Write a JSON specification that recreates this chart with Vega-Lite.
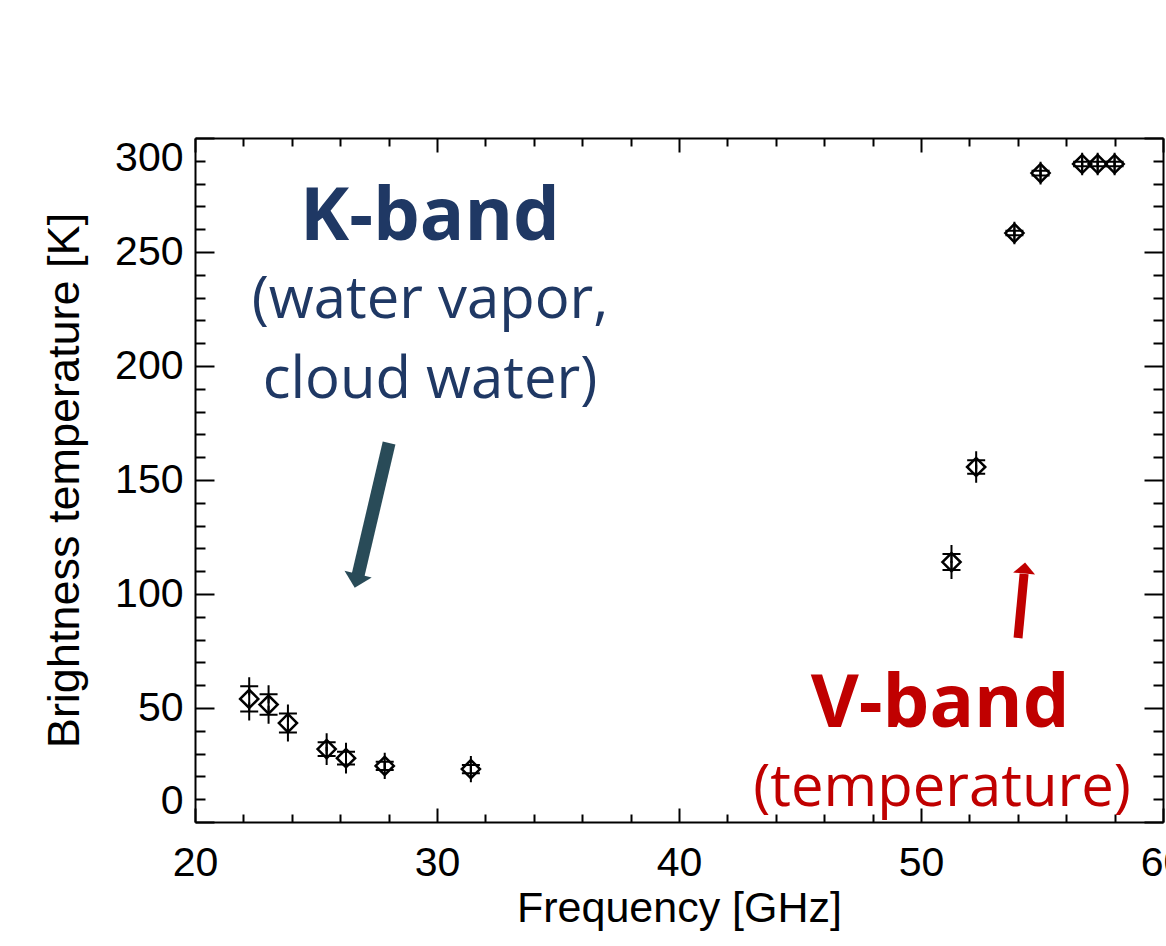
{
  "$schema": "https://vega.github.io/schema/vega-lite/v6.json",
  "width": 968,
  "height": 684,
  "autosize": {"type": "none"},
  "padding": {"left": 195, "top": 138, "right": 3, "bottom": 124},
  "background": "white",
  "config": {"view": {"stroke": null}},
  "datasets": {
    "obs": [
      {"freq": 22.24, "tb": 54.0, "lo": 48.5, "hi": 59.5},
      {"freq": 23.04, "tb": 51.5, "lo": 47.0, "hi": 56.0},
      {"freq": 23.84, "tb": 43.4, "lo": 39.2, "hi": 47.6},
      {"freq": 25.44, "tb": 32.0, "lo": 29.0, "hi": 35.0},
      {"freq": 26.24, "tb": 28.0, "lo": 25.2, "hi": 30.8},
      {"freq": 27.84, "tb": 24.6, "lo": 22.8, "hi": 26.4},
      {"freq": 31.40, "tb": 23.2, "lo": 21.4, "hi": 25.0},
      {"freq": 51.26, "tb": 114.0, "lo": 110.5, "hi": 117.5},
      {"freq": 52.28, "tb": 155.7, "lo": 152.7, "hi": 158.7},
      {"freq": 53.86, "tb": 258.3, "lo": 257.3, "hi": 259.3},
      {"freq": 54.94, "tb": 284.6, "lo": 283.6, "hi": 285.6},
      {"freq": 56.66, "tb": 288.6, "lo": 287.6, "hi": 289.6},
      {"freq": 57.30, "tb": 288.6, "lo": 287.6, "hi": 289.6},
      {"freq": 58.00, "tb": 288.6, "lo": 287.6, "hi": 289.6}
    ],
    "notes": [
      {"role": "ktitle", "freq": 29.71, "tb": 265.0, "text": "K-band"},
      {"role": "ksub", "freq": 29.71, "tb": 228.5, "text": "(water vapor,"},
      {"role": "ksub", "freq": 29.71, "tb": 193.5, "text": "cloud water)"},
      {"role": "vtitle", "freq": 50.79, "tb": 51.3, "text": "V-band"},
      {"role": "vsub", "freq": 50.87, "tb": 14.5, "text": "(temperature)"}
    ],
    "shafts": [
      {"band": "K", "freq": 28.02, "tb": 166.2, "freq2": 26.74, "tb2": 108.3},
      {"band": "V", "freq": 54.01, "tb": 80.7, "freq2": 54.26, "tb2": 108.8}
    ],
    "heads": [
      {"band": "K", "freq": 26.67, "tb": 105.7},
      {"band": "V", "freq": 54.28, "tb": 111.4}
    ]
  },
  "resolve": {"axis": {"x": "independent", "y": "independent"}},
  "layer": [
    {
      "data": {"name": "obs"},
      "mark": {"type": "rule", "color": "black", "strokeWidth": 2},
      "encoding": {
        "x": {
          "field": "freq", "type": "quantitative",
          "scale": {"domain": [20, 60], "nice": false, "zero": false},
          "axis": {
            "orient": "bottom",
            "values": [20,22,24,26,28,30,32,34,36,38,40,42,44,46,48,50,52,54,56,58,60],
            "labelExpr": "datum.value % 10 === 0 ? datum.label : ''",
            "labelOverlap": false, "labelFlush": false,
            "tickSize": -14, "tickWidth": 2, "tickColor": "black",
            "tickDash": {"condition": {"test": "datum.value % 10 !== 0", "value": [8, 40]}, "value": []},
            "domainColor": "black", "domainWidth": 2,
            "labelFont": "Liberation Sans", "labelFontSize": 41, "labelColor": "black", "labelPadding": 35,
            "title": "Frequency [GHz]", "titleFont": "Liberation Sans", "titleFontSize": 43,
            "titleFontWeight": "normal", "titleColor": "black", "titlePadding": 4, "grid": false
          }
        },
        "y": {
          "field": "lo", "type": "quantitative",
          "scale": {"domain": [0, 300], "nice": false, "zero": false},
          "axis": {
            "orient": "left",
            "values": [0,10,20,30,40,50,60,70,80,90,100,110,120,130,140,150,160,170,180,190,200,210,220,230,240,250,260,270,280,290,300],
            "labelExpr": "datum.value % 50 === 0 ? datum.label : ''",
            "labelOverlap": false, "labelFlush": true, "labelFlushOffset": 0,
            "tickSize": -19, "tickWidth": 2, "tickColor": "black",
            "tickDash": {"condition": {"test": "datum.value % 50 !== 0", "value": [10, 40]}, "value": []},
            "domainColor": "black", "domainWidth": 2,
            "labelFont": "Liberation Sans", "labelFontSize": 41, "labelColor": "black", "labelPadding": 31,
            "title": "Brightness temperature [K]", "titleFont": "Liberation Sans", "titleFontSize": 45,
            "titleFontWeight": "normal", "titleColor": "black", "titlePadding": 27, "grid": false
          }
        },
        "y2": {"field": "hi"}
      }
    },
    {
      "data": {"name": "obs"},
      "mark": {"type": "point", "shape": "M-1,0H1M0,-1V1", "filled": false, "stroke": "black", "strokeWidth": 2, "size": 324, "opacity": 1},
      "encoding": {
        "x": {"field": "freq", "type": "quantitative", "axis": null},
        "y": {"field": "lo", "type": "quantitative", "axis": null}
      }
    },
    {
      "data": {"name": "obs"},
      "mark": {"type": "point", "shape": "M-1,0H1M0,-1V1", "filled": false, "stroke": "black", "strokeWidth": 2, "size": 324, "opacity": 1},
      "encoding": {
        "x": {"field": "freq", "type": "quantitative", "axis": null},
        "y": {"field": "hi", "type": "quantitative", "axis": null}
      }
    },
    {
      "data": {"name": "obs"},
      "mark": {"type": "point", "shape": "diamond", "filled": false, "stroke": "black", "strokeWidth": 2.5, "size": 330, "opacity": 1},
      "encoding": {
        "x": {
          "field": "freq", "type": "quantitative",
          "axis": {
            "orient": "top",
            "values": [20,22,24,26,28,30,32,34,36,38,40,42,44,46,48,50,52,54,56,58,60],
            "labels": false, "title": null, "grid": false,
            "tickSize": -14, "tickWidth": 2, "tickColor": "black",
            "tickDash": {"condition": {"test": "datum.value % 10 !== 0", "value": [8, 40]}, "value": []},
            "domainColor": "black", "domainWidth": 2
          }
        },
        "y": {
          "field": "tb", "type": "quantitative",
          "axis": {
            "orient": "right",
            "values": [0,10,20,30,40,50,60,70,80,90,100,110,120,130,140,150,160,170,180,190,200,210,220,230,240,250,260,270,280,290,300],
            "labels": false, "title": null, "grid": false,
            "tickSize": -19, "tickWidth": 2, "tickColor": "black",
            "tickDash": {"condition": {"test": "datum.value % 50 !== 0", "value": [10, 40]}, "value": []},
            "domainColor": "black", "domainWidth": 2
          }
        }
      }
    },
    {
      "data": {"name": "notes"},
      "transform": [{"filter": "datum.role === 'ktitle'"}],
      "mark": {"type": "text", "font": "Open Sans", "fontWeight": "bold", "fontSize": 74, "color": "#1F3864", "align": "center", "baseline": "middle"},
      "encoding": {
        "x": {"field": "freq", "type": "quantitative", "axis": null},
        "y": {"field": "tb", "type": "quantitative", "axis": null},
        "text": {"field": "text"}
      }
    },
    {
      "data": {"name": "notes"},
      "transform": [{"filter": "datum.role === 'ksub'"}],
      "mark": {"type": "text", "font": "Open Sans", "fontSize": 58, "color": "#1F3864", "align": "center", "baseline": "middle"},
      "encoding": {
        "x": {"field": "freq", "type": "quantitative", "axis": null},
        "y": {"field": "tb", "type": "quantitative", "axis": null},
        "text": {"field": "text"}
      }
    },
    {
      "data": {"name": "notes"},
      "transform": [{"filter": "datum.role === 'vtitle'"}],
      "mark": {"type": "text", "font": "Open Sans", "fontWeight": "bold", "fontSize": 74, "color": "#C00000", "align": "center", "baseline": "middle"},
      "encoding": {
        "x": {"field": "freq", "type": "quantitative", "axis": null},
        "y": {"field": "tb", "type": "quantitative", "axis": null},
        "text": {"field": "text"}
      }
    },
    {
      "data": {"name": "notes"},
      "transform": [{"filter": "datum.role === 'vsub'"}],
      "mark": {"type": "text", "font": "Open Sans", "fontSize": 58, "color": "#C00000", "align": "center", "baseline": "middle"},
      "encoding": {
        "x": {"field": "freq", "type": "quantitative", "axis": null},
        "y": {"field": "tb", "type": "quantitative", "axis": null},
        "text": {"field": "text"}
      }
    },
    {
      "data": {"name": "shafts"},
      "transform": [{"filter": "datum.band === 'K'"}],
      "mark": {"type": "rule", "color": "#294B58", "strokeWidth": 13, "strokeCap": "butt"},
      "encoding": {
        "x": {"field": "freq", "type": "quantitative", "axis": null},
        "y": {"field": "tb", "type": "quantitative", "axis": null},
        "x2": {"field": "freq2"},
        "y2": {"field": "tb2"}
      }
    },
    {
      "data": {"name": "heads"},
      "transform": [{"filter": "datum.band === 'K'"}],
      "mark": {"type": "point", "shape": "M-1,-0.5L1,-0.5L0,0.5Z", "filled": true, "color": "#294B58", "size": 784, "angle": 14, "opacity": 1},
      "encoding": {
        "x": {"field": "freq", "type": "quantitative", "axis": null},
        "y": {"field": "tb", "type": "quantitative", "axis": null}
      }
    },
    {
      "data": {"name": "shafts"},
      "transform": [{"filter": "datum.band === 'V'"}],
      "mark": {"type": "rule", "color": "#C00000", "strokeWidth": 9, "strokeCap": "butt"},
      "encoding": {
        "x": {"field": "freq", "type": "quantitative", "axis": null},
        "y": {"field": "tb", "type": "quantitative", "axis": null},
        "x2": {"field": "freq2"},
        "y2": {"field": "tb2"}
      }
    },
    {
      "data": {"name": "heads"},
      "transform": [{"filter": "datum.band === 'V'"}],
      "mark": {"type": "point", "shape": "M-1,0.5L1,0.5L0,-0.5Z", "filled": true, "color": "#C00000", "size": 484, "angle": 5, "opacity": 1},
      "encoding": {
        "x": {"field": "freq", "type": "quantitative", "axis": null},
        "y": {"field": "tb", "type": "quantitative", "axis": null}
      }
    }
  ]
}
